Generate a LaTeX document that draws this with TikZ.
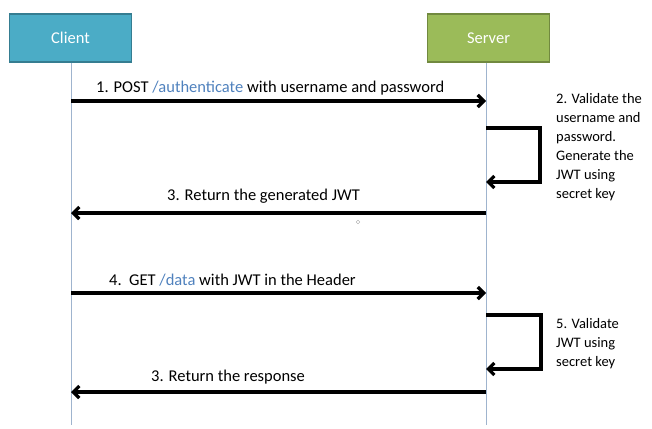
\documentclass[tikz,border=0pt]{standalone}
\usepackage{fontspec}
\setmainfont{Carlito}
\usetikzlibrary{arrows.meta,positioning}
\definecolor{clientfill}{HTML}{4BACC6}
\definecolor{clientline}{HTML}{357D91}
\definecolor{serverfill}{HTML}{9BBB59}
\definecolor{serverline}{HTML}{71893F}
\definecolor{lifeline}{HTML}{9FB4CE}
\definecolor{urlblue}{HTML}{4F81BD}

\begin{document}
\begin{tikzpicture}[x=1pt,y=-1pt,font=\fontsize{16.5}{20}\selectfont]
\tikzstyle{actor} = [draw, line width=1.2pt, minimum width=122pt, minimum height=48pt, text=white]
\tikzstyle{life} = [draw=lifeline, line width=0.8pt]
\tikzstyle{msg} = [line width=3.2pt, -{Straight Barb[length=6pt,width=12pt]}]
\tikzstyle{lbl} = [anchor=base west, inner sep=0pt]
\tikzstyle{note} = [anchor=north west, align=left, inner sep=0pt, font=\fontsize{14.5}{19}\selectfont]

\useasboundingbox (0,0) rectangle (652,428);

\node [actor, fill=clientfill, draw=clientline] (client) at (70.5,38) {Client};
\node [actor, fill=serverfill, draw=serverline] (server) at (488.5,38) {Server};

% lifelines
\coordinate (clientend) at (71,425);
\coordinate (serverend) at (486,425);
\draw [life] (client.south -| clientend) -- (clientend);
\draw [life] (server.south -| serverend) -- (serverend);

% 1. authenticate
\coordinate (c1) at (71,101);
\coordinate (s1) at (486,101);
\draw [msg] (c1) -- (s1);
\node [lbl] (lab1) at (96,92) {1. POST \textcolor{urlblue}{/authenticate} with username and password};

% 2. validate
\coordinate (s2a) at (486,128);
\coordinate (s2b) at (486,182);
\draw [msg] (s2a) -- ++(54,0) |- (s2b);
\node [note] (note2) at (556,93) {2. Validate the\\username and\\password.\\Generate the\\JWT using\\secret key};

% 3. return JWT
\coordinate (s3) at (486,213);
\coordinate (c3) at (71,213);
\draw [msg] (s3) -- (c3);
\node [lbl] (lab3) at (167,200) {3. Return the generated JWT};
\node [circle, draw=gray!70, inner sep=1.3pt] (dot) at (358,222) {};

% 4. get data
\coordinate (c4) at (71,293);
\coordinate (s4) at (486,293);
\draw [msg] (c4) -- (s4);
\node [lbl] (lab4) at (109,285) {4.\ \ GET \textcolor{urlblue}{/data} with JWT in the Header};

% 5. validate
\coordinate (s5a) at (486,315);
\coordinate (s5b) at (486,369);
\draw [msg] (s5a) -- ++(55,0) |- (s5b);
\node [note] (note5) at (556,318) {5. Validate\\JWT using\\secret key};

% 6. response
\coordinate (s6) at (486,392);
\coordinate (c6) at (71,392);
\draw [msg] (s6) -- (c6);
\node [lbl] (lab6) at (151,381) {3. Return the response};
\end{tikzpicture}
\end{document}
